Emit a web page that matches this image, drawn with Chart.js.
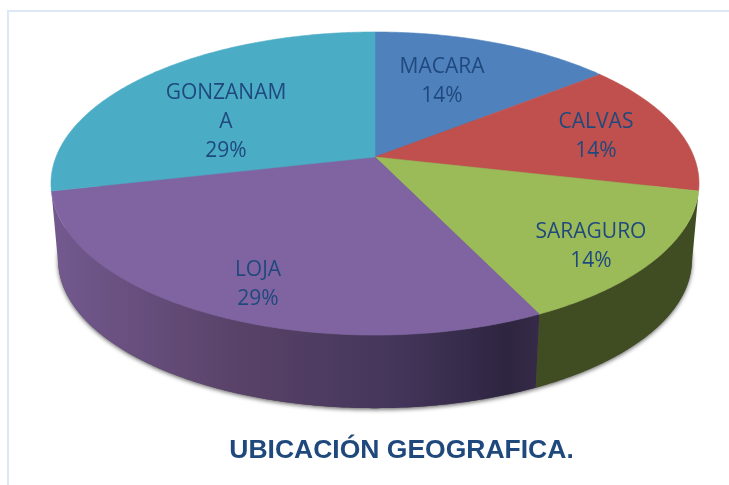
<!DOCTYPE html>
<html>
<head>
<meta charset="utf-8">
<style>html,body{margin:0;padding:0;background:#fff;overflow:hidden}#w{width:729px;height:485px;position:relative}</style>
<script src="https://cdn.jsdelivr.net/npm/chart.js@4"></script>
</head>
<body>
<div id="w"><canvas id="c" width="729" height="485"></canvas></div>
<script>
const categories = ['MACARA', 'CALVAS', 'SARAGURO', 'LOJA', 'GONZANAMA'];
const values = [1, 1, 1, 2, 2];
const topColors = ['#4F81BD', '#C0504D', '#9BBB59', '#8064A2', '#4BACC6'];
const wallColors = ['#2C4A70', '#70302E', '#404C22', '#4A3A60', '#2B6577'];
const titleText = 'UBICACIÓN GEOGRAFICA.';
const textColor = '#1F497D';

// Perspective of the pie plane
const P = {cx: 375, cy: 157, R: 319, Rb: 146.9, k: 0.175, lowerCy: 234, lowerScale: 0.978};
const labelAnchors = [[442, 81.5], [596, 137], [591, 246.5], [258, 284.5], [226, 122.5]];
const labelFont = '21px "Open Sans"';
const maxLabelWidth = 126, labelLeading = 29;

function proj(a, lower) {
  const d = 1 - P.k * Math.sin(a);
  const s = lower ? P.lowerScale : 1;
  return [P.cx + s * P.R * Math.cos(a) / d, (lower ? P.lowerCy : P.cy) + s * P.Rb * Math.sin(a) / d];
}
function rim(ctx, a0, a1, lower, first) {
  const n = Math.max(2, Math.ceil(Math.abs(a1 - a0) * 90));
  for (let i = 0; i <= n; i++) {
    const p = proj(a0 + (a1 - a0) * i / n, lower);
    if (i === 0 && first) ctx.moveTo(p[0], p[1]); else ctx.lineTo(p[0], p[1]);
  }
}
function wrap(ctx, t) {
  const out = []; let cur = '';
  for (const ch of t) {
    if (ctx.measureText(cur + ch).width > maxLabelWidth) { out.push(cur); cur = ch; } else cur += ch;
  }
  out.push(cur);
  return out;
}

const pie3d = {
  id: 'pie3d',
  beforeDraw(chart) {
    const ctx = chart.ctx;
    ctx.save();
    ctx.strokeStyle = '#DCE7F7';
    ctx.lineWidth = 2;
    ctx.beginPath();
    ctx.moveTo(8, 485); ctx.lineTo(8, 11); ctx.lineTo(729, 11);
    ctx.stroke();
    ctx.restore();
  },
  beforeDatasetsDraw(chart) {
    const ctx = chart.ctx;
    const arcs = chart.getDatasetMeta(0).data;
    ctx.save();
    // soft shadow below the lower rim
    ctx.save();
    ctx.shadowColor = 'rgba(0,0,0,0.6)';
    ctx.shadowBlur = 4;
    ctx.shadowOffsetY = 1.5;
    ctx.fillStyle = '#555';
    ctx.beginPath();
    rim(ctx, 0, Math.PI * 2, true, true);
    ctx.closePath();
    ctx.fill();
    ctx.restore();
    // side walls of the slices that face the viewer
    arcs.forEach((arc, i) => {
      const mid = (arc.startAngle + arc.endAngle) / 2;
      if (Math.sin(mid) <= 0) return;
      ctx.beginPath();
      rim(ctx, arc.startAngle, arc.endAngle, false, true);
      rim(ctx, arc.endAngle, arc.startAngle, true, false);
      ctx.closePath();
      if (categories[i] === 'LOJA') {
        const g = ctx.createLinearGradient(52, 0, 536, 0);
        g.addColorStop(0, '#73598F');
        g.addColorStop(0.39, '#594268');
        g.addColorStop(0.72, '#43355A');
        g.addColorStop(0.94, '#2E2540');
        g.addColorStop(1, '#352A47');
        ctx.fillStyle = g;
      } else ctx.fillStyle = wallColors[i];
      ctx.fill();
    });
    // top faces
    arcs.forEach((arc, i) => {
      ctx.beginPath();
      ctx.moveTo(P.cx, P.cy);
      rim(ctx, arc.startAngle, arc.endAngle, false, false);
      ctx.closePath();
      ctx.fillStyle = topColors[i];
      ctx.strokeStyle = topColors[i];
      ctx.lineWidth = 0.6;
      ctx.fill();
      ctx.stroke();
    });
    // labels
    ctx.font = labelFont;
    ctx.fillStyle = textColor;
    ctx.textAlign = 'center';
    ctx.textBaseline = 'middle';
    const total = values.reduce((a, b) => a + b, 0);
    categories.forEach((name, i) => {
      const lines = wrap(ctx, name).concat(Math.round(values[i] / total * 100) + '%');
      const [x, y] = labelAnchors[i];
      lines.forEach((l, j) => ctx.fillText(l, x, y + (j - (lines.length - 1) / 2) * labelLeading));
    });
    ctx.restore();
    return false;
  }
};

new Chart(document.getElementById('c'), {
  type: 'pie',
  data: {labels: categories, datasets: [{data: values, backgroundColor: topColors, borderWidth: 0}]},
  plugins: [pie3d],
  options: {
    responsive: false,
    animation: false,
    layout: {padding: {left: 74, bottom: 18}},
    plugins: {
      legend: {display: false},
      tooltip: {enabled: false},
      title: {
        display: true, text: titleText, position: 'bottom', color: textColor,
        font: {family: '"Liberation Sans"', size: 26.5, weight: 'bold'},
        padding: {top: 0, bottom: 0}
      }
    }
  }
});
</script>
</body>
</html>
